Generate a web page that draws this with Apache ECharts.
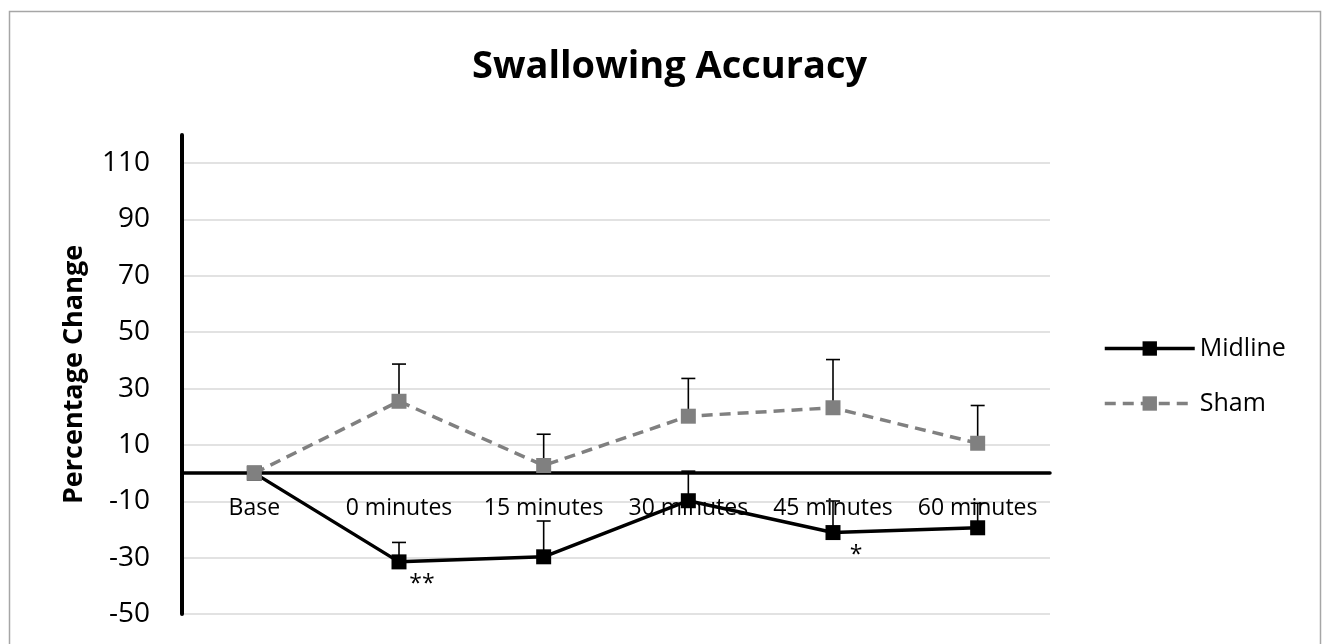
<!DOCTYPE html>
<html>
<head>
<meta charset="utf-8">
<title>Swallowing Accuracy</title>
<script src="https://cdn.jsdelivr.net/npm/echarts@6/dist/echarts.min.js"></script>
<style>
    html, body { margin: 0; padding: 0; background: #fff; }
    #container { width: 1322px; height: 644px; }
</style>
</head>
<body>
<div id="container"></div>
<script type="text/javascript">
    // values
    var categories = ['Base', '0 minutes', '15 minutes', '30 minutes', '45 minutes', '60 minutes'];
    var midline = [0, -31.5, -29.7, -9.8, -21.1, -19.4];
    var midlineErr = [null, 6.9, 12.7, 10.5, 11.2, 8.7];
    var sham = [0, 25.5, 2.7, 20.2, 23.2, 10.6];
    var shamErr = [null, 13.2, 11.1, 13.4, 17.1, 13.4];
    var sigMarks = ['', '**', '', '', '*', ''];

    var font = '"Open Sans", "Noto Sans", sans-serif';

    var dom = document.getElementById('container');
    var myChart = echarts.init(dom);

    // upper error bars (value -> value + err) with a small cap
    function errorData(vals, errs) {
        var out = [];
        for (var i = 0; i < vals.length; i++) {
            if (errs[i] == null) continue;
            out.push([i, vals[i], vals[i] + errs[i]]);
        }
        return out;
    }

    function renderError(params, api) {
        var p0 = api.coord([api.value(0), api.value(1)]);
        var p1 = api.coord([api.value(0), api.value(2)]);
        var half = 7;
        var style = { stroke: '#000', lineWidth: 1.6 };
        return {
            type: 'group',
            children: [
                { type: 'line', shape: { x1: p0[0], y1: p0[1], x2: p1[0], y2: p1[1] }, style: style },
                { type: 'line', shape: { x1: p1[0] - half, y1: p1[1], x2: p1[0] + half, y2: p1[1] }, style: style }
            ]
        };
    }

    var option = {
        animation: false,
        textStyle: { fontFamily: font },
        graphic: [{
            type: 'rect',
            shape: { x: 9.5, y: 11.5, width: 1311, height: 700 },
            style: { fill: 'none', stroke: '#a6a6a6', lineWidth: 1.5 },
            silent: true
        }],
        title: {
            text: 'Swallowing Accuracy',
            left: 467,
            top: 43,
            textStyle: { fontFamily: font, fontSize: 38, fontWeight: 'bold', color: '#000' }
        },
        legend: {
            orient: 'vertical',
            left: 1103,
            top: 336,
            padding: 0,
            itemWidth: 90,
            itemHeight: 18,
            itemGap: 30,
            data: ['Midline', 'Sham'],
            lineStyle: { width: 3.5 },
            textStyle: { fontFamily: font, fontSize: 25, color: '#000', padding: [0, 0, 0, 0] }
        },
        grid: { left: 182, right: 272, top: 135, bottom: 30, containLabel: false, outerBoundsMode: 'none' },
        xAxis: {
            type: 'category',
            data: categories,
            boundaryGap: true,
            axisLine: { onZero: true, lineStyle: { color: '#000', width: 3.5 } },
            axisTick: { show: false },
            axisLabel: { margin: -117, fontSize: 23, color: '#000', fontFamily: font, interval: 0 },
            splitLine: { show: false },
            z: 1
        },
        yAxis: {
            type: 'value',
            min: -50,
            max: 120,
            interval: 20,
            name: 'Percentage Change',
            nameLocation: 'middle',
            nameRotate: 90,
            nameGap: 94,
            nameTextStyle: { fontFamily: font, fontSize: 27, fontWeight: 'bold', color: '#000' },
            axisLine: { show: true, lineStyle: { color: '#000', width: 4 } },
            axisTick: { show: false },
            axisLabel: { margin: 32, fontSize: 28, color: '#000', fontFamily: font, showMaxLabel: false },
            splitLine: { show: true, showMaxLine: false, lineStyle: { color: '#d9d9d9', width: 1.5 } }
        },
        series: [
            {
                name: 'Midline err',
                type: 'custom',
                renderItem: renderError,
                data: errorData(midline, midlineErr),
                encode: { x: 0, y: [1, 2] },
                z: 2,
                silent: true
            },
            {
                name: 'Sham err',
                type: 'custom',
                renderItem: renderError,
                data: errorData(sham, shamErr),
                encode: { x: 0, y: [1, 2] },
                z: 2,
                silent: true
            },
            {
                name: 'Midline',
                type: 'line',
                data: midline,
                symbol: 'rect',
                symbolSize: 15,
                itemStyle: { color: '#000' },
                lineStyle: { color: '#000', width: 3.5 },
                label: {
                    show: true,
                    position: 'bottom',
                    offset: [23, -1],
                    fontSize: 23,
                    color: '#000',
                    formatter: function (p) { return sigMarks[p.dataIndex]; }
                },
                z: 3
            },
            {
                name: 'Sham',
                type: 'line',
                data: sham,
                symbol: 'rect',
                symbolSize: 15,
                itemStyle: { color: '#808080' },
                lineStyle: { color: '#808080', width: 3.5, type: [11, 7] },
                z: 4
            }
        ]
    };

    myChart.setOption(option, true);
</script>
</body>
</html>
